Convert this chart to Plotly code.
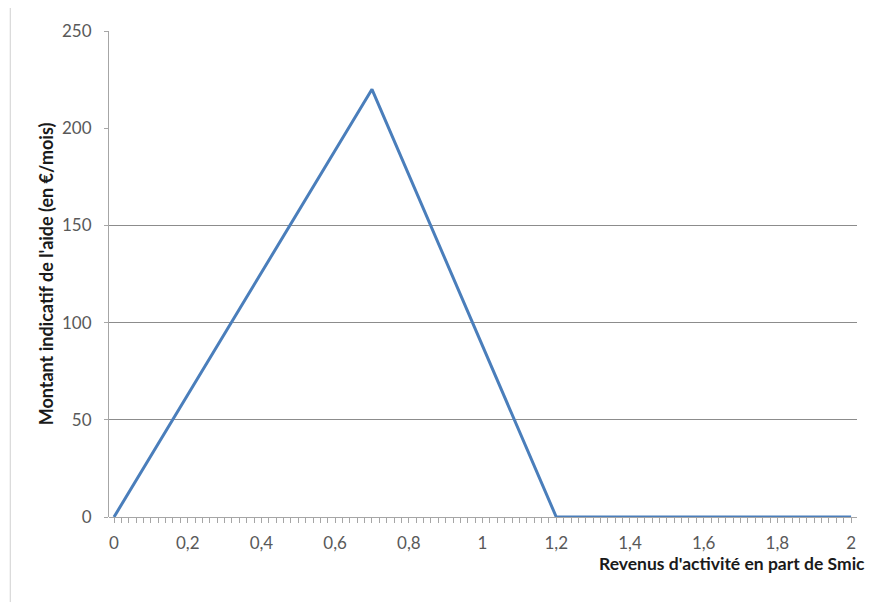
import plotly.graph_objects as go

# Data
x_share_smic = [0, 0.7, 1.2, 2.0]
aide_eur_mois = [0, 220, 0, 0]
x_tick_vals = [0, 0.2, 0.4, 0.6, 0.8, 1.0, 1.2, 1.4, 1.6, 1.8, 2.0]
x_tick_text = ["0", "0,2", "0,4", "0,6", "0,8", "1", "1,2", "1,4", "1,6", "1,8", "2"]
y_tick_vals = [0, 50, 100, 150, 200, 250]
y_grid_vals = [50, 100, 150]

FONT = "Lato, 'Open Sans', sans-serif"
GRAY_TXT = "#595959"

fig = go.Figure()
fig.add_trace(go.Scatter(
    x=x_share_smic, y=aide_eur_mois, mode="lines",
    line=dict(color="#4a7ebb", width=3), showlegend=False, hoverinfo="skip",
))
# invisible trace to activate grid overlay axis
fig.add_trace(go.Scatter(x=[0], y=[0], yaxis="y2", mode="markers",
                         marker=dict(opacity=0), showlegend=False, hoverinfo="skip"))

fig.update_layout(
    width=865, height=599,
    margin=dict(l=101, r=16, t=23, b=90),
    paper_bgcolor="white", plot_bgcolor="white",
    font=dict(family=FONT, size=17, color=GRAY_TXT),
    xaxis=dict(
        range=[-0.0136, 2.016], tickvals=x_tick_vals, ticktext=x_tick_text,
        ticks="outside", ticklen=5, tickcolor="#a6a6a6", tickwidth=1,
        minor=dict(dtick=0.02, tick0=0, ticks="outside", ticklen=5,
                   tickcolor="#a6a6a6", tickwidth=1, showgrid=False),
        showgrid=False, zeroline=False, showline=False, automargin=False,
        ticklabelstandoff=6,
        tickfont=dict(family=FONT, size=17, color=GRAY_TXT),
    ),
    yaxis=dict(
        range=[0, 250], tickvals=y_tick_vals, automargin=False,
        ticks="outside", ticklen=4, tickcolor="#a6a6a6",
        showgrid=False, zeroline=True, zerolinecolor="#a6a6a6", zerolinewidth=1,
        showline=True, linecolor="#a6a6a6", linewidth=1,
        ticklabelstandoff=9,
        tickfont=dict(family=FONT, size=17, color=GRAY_TXT),
        title=dict(text="Montant indicatif de l'aide (en €/mois)",
                   font=dict(family=FONT, size=18, color="#1a1a1a", weight="bold"),
                   standoff=3),
    ),
    yaxis2=dict(
        overlaying="y", range=[0, 250], tickvals=y_grid_vals, automargin=False,
        showticklabels=False, showgrid=True, gridcolor="#8c8c8c", gridwidth=1,
        zeroline=False, showline=False, ticks="",
    ),
)

fig.add_annotation(
    text="Revenus d'activité en part de Smic", xref="paper", yref="paper",
    x=1.0134, y=-0.0947, xanchor="right", yanchor="middle", showarrow=False,
    font=dict(family=FONT, size=17.5, color="#1a1a1a", weight="bold"),
)

# faint chart frame on left
fig.add_shape(type="line", xref="paper", yref="paper",
              x0=-0.132, x1=-0.132, y0=-0.175, y1=1.07,
              line=dict(color="#d0d0d0", width=1))

fig.write_html("out.html")
